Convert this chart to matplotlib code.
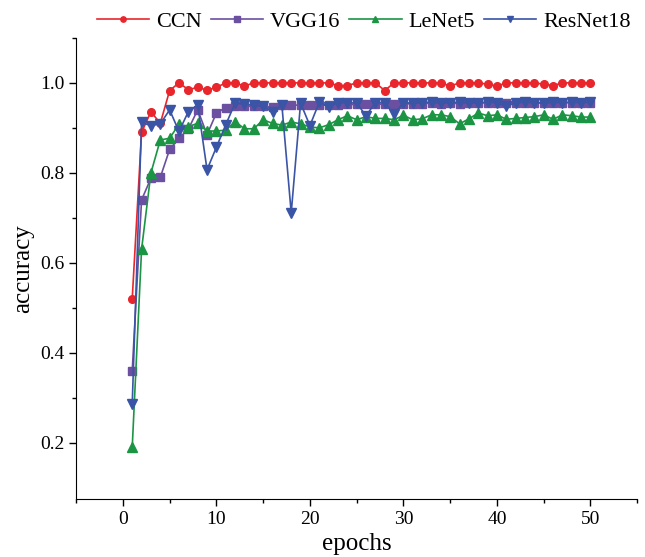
import matplotlib.pyplot as plt
import numpy as np

plt.rcParams['font.family'] = ['Liberation Serif', 'DejaVu Serif']

epochs = list(range(1, 51))

ccn = [0.52, 0.89, 0.936, 0.91, 0.983, 1.0, 0.985, 0.99, 0.984, 0.99,
       1.0, 1.0, 0.993, 1.0, 1.0, 1.0, 1.0, 1.0, 1.0, 1.0,
       1.0, 1.0, 0.994, 0.994, 1.0, 1.0, 1.0, 0.983, 1.0, 1.0,
       1.0, 1.0, 1.0, 1.0, 0.993, 1.0, 1.0, 1.0, 0.997, 0.993,
       1.0, 1.0, 1.0, 1.0, 0.997, 0.994, 1.0, 1.0, 1.0, 1.0]

vgg16 = [0.36, 0.74, 0.788, 0.79, 0.852, 0.877, 0.897, 0.94, 0.885, 0.933,
         0.945, 0.948, 0.948, 0.948, 0.948, 0.946, 0.95, 0.95, 0.951, 0.951,
         0.951, 0.95, 0.951, 0.952, 0.952, 0.952, 0.953, 0.952, 0.953, 0.954,
         0.953, 0.954, 0.955, 0.954, 0.955, 0.954, 0.955, 0.955, 0.956, 0.955,
         0.955, 0.956, 0.955, 0.956, 0.956, 0.955, 0.956, 0.956, 0.956, 0.956]

lenet5 = [0.19, 0.63, 0.80, 0.873, 0.877, 0.908, 0.903, 0.91, 0.893, 0.893,
          0.895, 0.914, 0.898, 0.898, 0.918, 0.91, 0.906, 0.913, 0.909, 0.902,
          0.9, 0.907, 0.918, 0.927, 0.918, 0.925, 0.921, 0.921, 0.918, 0.928,
          0.918, 0.92, 0.929, 0.929, 0.925, 0.909, 0.92, 0.933, 0.927, 0.929,
          0.919, 0.921, 0.923, 0.925, 0.929, 0.919, 0.929, 0.927, 0.924, 0.924]

resnet18 = [0.286, 0.912, 0.905, 0.909, 0.94, 0.892, 0.936, 0.951, 0.807, 0.857,
            0.907, 0.955, 0.953, 0.95, 0.948, 0.935, 0.951, 0.711, 0.955, 0.905,
            0.957, 0.947, 0.956, 0.956, 0.955, 0.927, 0.956, 0.956, 0.93, 0.956,
            0.955, 0.956, 0.957, 0.955, 0.956, 0.957, 0.955, 0.956, 0.957, 0.956,
            0.948, 0.956, 0.957, 0.956, 0.955, 0.957, 0.956, 0.957, 0.956, 0.957]

fig = plt.figure(figsize=(6.45, 5.57), dpi=100)
ax = fig.add_axes([0.118, 0.104, 0.870, 0.828])

ax.plot(epochs, ccn, color='#E8262B', marker='o', markersize=5.5, lw=1.2, label='CCN')
ax.plot(epochs, vgg16, color='#6B4FA0', marker='s', markersize=5.5, lw=1.2, label='VGG16')
ax.plot(epochs, lenet5, color='#1B9544', marker='^', markersize=7, lw=1.2, label='LeNet5')
ax.plot(epochs, resnet18, color='#3A54A6', marker='v', markersize=7, lw=1.2, label='ResNet18')

ax.set_xlim(-5, 55)
ax.set_ylim(0.075, 1.1)
ax.set_xticks([0, 10, 20, 30, 40, 50])
ax.set_xticks(np.arange(-5, 56, 10), minor=True)
ax.set_yticks([0.2, 0.4, 0.6, 0.8, 1.0])
ax.set_yticks([0.3, 0.5, 0.7, 0.9, 1.1], minor=True)
ax.spines['top'].set_visible(False)
ax.spines['right'].set_visible(False)
ax.tick_params(axis='both', which='major', direction='out', length=5, width=1, labelsize=14)
ax.tick_params(axis='both', which='minor', direction='out', length=3, width=1)

ax.set_xlabel('epochs', fontsize=18)
ax.set_ylabel('accuracy', fontsize=18)

fig.legend(loc='upper center', bbox_to_anchor=(0.564, 1.015), ncol=4, frameon=False,
           fontsize=16, handlelength=2.35, columnspacing=0.4, handletextpad=0.32,
           markerscale=0.7)

fig.savefig('out.png', dpi=100)
